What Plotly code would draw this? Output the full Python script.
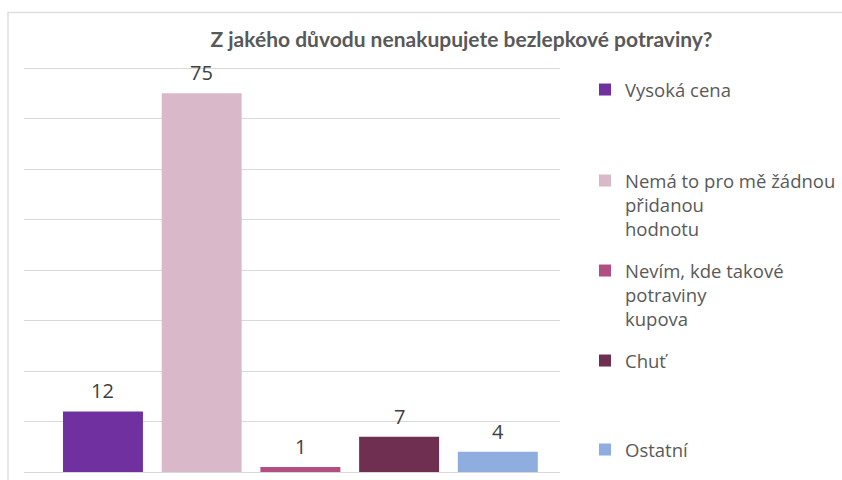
import plotly.graph_objects as go

categories = ["Vysoká cena", "Nemá to pro mě žádnou<br>přidanou<br>hodnotu",
              "Nevím, kde takové<br>potraviny<br>kupova", "Chuť", "Ostatní"]
values = [12, 75, 1, 7, 4]
colors = ["#7030A0", "#D9B8CA", "#B24F82", "#6E2F50", "#8DAEDF"]
legend_names = ["legend", "legend2", "legend3", "legend4", "legend5"]
legend_line_px = [91, 182, 272, 362, 451]

W, H = 842, 480
L, R, T, B = 24, 282, 63, 8
plot_w = W - L - R
plot_h = H - T - B

def py(px):
    return (H - B - px) / plot_h

def pxp(px):
    return (px - L) / plot_w

fig = go.Figure()
for i, (cat, v, c, lg) in enumerate(zip(categories, values, colors, legend_names)):
    fig.add_trace(go.Bar(
        x=[i], y=[v], name=cat, marker=dict(color=c, line=dict(width=0)),
        legend=lg, showlegend=True,
    ))
    fig.add_annotation(x=i, y=v, text=str(v), showarrow=False, yanchor="bottom",
                       yshift=5, font=dict(family="Open Sans", size=20, color="#404040"))

font = dict(family="Open Sans, Liberation Sans, sans-serif", size=18.5, color="#595959")
layout_legends = {}
for lg, lp in zip(legend_names, legend_line_px):
    layout_legends[lg] = dict(
        x=pxp(585), y=py(lp - 20), xanchor="left", yanchor="top",
        font=font, bgcolor="rgba(0,0,0,0)", borderwidth=0, valign="top",
        itemclick=False, itemdoubleclick=False,
    )

fig.update_layout(
    width=W, height=H,
    margin=dict(l=L, r=R, t=T, b=B, autoexpand=False),
    paper_bgcolor="white", plot_bgcolor="white",
    barmode="overlay", bargap=0.19,
    title=dict(text="<b>Z jakého důvodu nenakupujete bezlepkové potraviny?</b>",
               x=461.5 / W, xanchor="center", xref="container",
               y=1 - 40 / H, yanchor="middle", yref="container",
               font=dict(family="Lato, sans-serif", size=21, color="#595959")),
    xaxis=dict(range=[-0.80, 4.63], showticklabels=False, showgrid=False,
               zeroline=False, showline=False, fixedrange=True),
    yaxis=dict(range=[0, 81], tick0=0, dtick=10, showticklabels=False, showgrid=True,
               gridcolor="#D9D9D9", gridwidth=1, zeroline=True, zerolinecolor="#D9D9D9",
               zerolinewidth=1, showline=False, fixedrange=True),
    showlegend=True,
    **layout_legends,
)
fig.add_shape(type="rect", xref="paper", yref="paper",
              x0=pxp(8), x1=pxp(860), y0=py(490), y1=py(12.5),
              line=dict(color="#DEDEDE", width=1.5), fillcolor="rgba(0,0,0,0)", layer="below")

fig.write_html("out.html", config={"displayModeBar": False},
               post_script="document.body.style.margin='0';document.body.style.overflow='hidden';")
